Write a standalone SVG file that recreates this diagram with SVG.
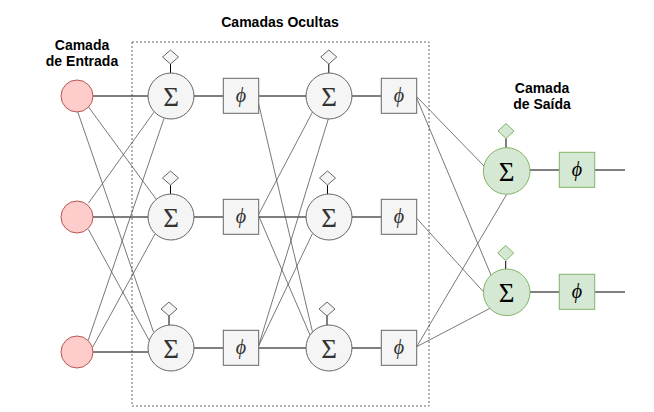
<svg xmlns="http://www.w3.org/2000/svg" width="654" height="412" viewBox="0 0 654 412">
<style>
.lbl{font-family:"Liberation Sans",Arial,Helvetica,sans-serif;font-weight:bold;font-size:14px;fill:#000;text-anchor:middle}
.in{fill:#ffcccc;stroke:#b85450;stroke-width:1}
.hid{fill:#f5f5f5;stroke:#666666;stroke-width:1}
.out{fill:#d5e8d4;stroke:#82b366;stroke-width:1}
.sig{font-family:"Liberation Serif","Times New Roman",serif;font-size:27px;text-anchor:middle}
.phi{font-family:"Liberation Serif","DejaVu Serif",serif;font-style:italic;font-size:20px;text-anchor:middle}
.dk{fill:#333333}
.bk{fill:#000000}
.h{stroke:#000;stroke-width:1;fill:none}
.d{stroke:#555;stroke-width:0.8;fill:none}
</style>
<rect x="132" y="42" width="297" height="364" fill="none" stroke="#666" stroke-width="1" stroke-dasharray="2 2"/>
<text class="lbl" x="280" y="26.5">Camadas Ocultas</text>
<text class="lbl" x="82" y="50">Camada</text>
<text class="lbl" x="82" y="65.5">de Entrada</text>
<text class="lbl" x="542" y="93">Camada</text>
<text class="lbl" x="542" y="109">de Saída</text>
<g id="connectors">
<path class="h" d="M93,96H148M93,217H148M93,352H148.4M194,96H223M194,217H223M194,348H223M258.7,96H306M258.7,217H306M258.7,348H306M352,96H381M352,217H381M352,348H381M530,170H559M594.7,170H625M530,292H559M594.7,292H625"/>
<path class="h" d="M170.5,64V73M170.5,185V194M169,316V325M328.8,64V73M327.5,185V194M327,316V325M506,138.3V148M505.7,260.7V269.3"/>
<path class="d" d="M88.3,106.7L156,199M77.7,111.7L153.5,332M88.3,203.3L154.3,111.7M88.3,229.3L149,340M88.3,340L164,118.5M92.7,347.2L155,234"/>
<path class="d" d="M258.5,103.3L312.5,332M258.3,215L310,335M258.3,215L312.5,112M258.3,346.7L328.3,119M258.3,346.7L312.5,233.5"/>
<path class="d" d="M416.7,96.7L484,166M416.7,98L491,275M416.7,218.3L483.3,291.7M416.7,346.7L506.7,194.3M416.7,346.7L490,308.3"/>
</g>
<g id="in1"><circle class="in" cx="77" cy="96" r="16"/></g>
<g id="in2"><circle class="in" cx="77" cy="217" r="16"/></g>
<g id="in3"><circle class="in" cx="77" cy="352" r="16"/></g>
<g id="s11"><polygon class="hid" points="170.5,50 178.5,57 170.5,64 162.5,57"/><circle class="hid" cx="171" cy="96" r="23"/><text class="sig dk" x="171" y="106">Σ</text></g>
<g id="s12"><polygon class="hid" points="170.5,171 178.5,178 170.5,185 162.5,178"/><circle class="hid" cx="171" cy="217" r="23"/><text class="sig dk" x="171" y="227">Σ</text></g>
<g id="s13"><polygon class="hid" points="169,302 177,309 169,316 161,309"/><circle class="hid" cx="171" cy="348" r="23"/><text class="sig dk" x="171" y="358">Σ</text></g>
<g id="p11"><rect class="hid" x="223.3" y="78.3" width="35.4" height="35"/><text class="phi dk" x="241" y="102">ϕ</text></g>
<g id="p12"><rect class="hid" x="223.3" y="199.3" width="35.4" height="35"/><text class="phi dk" x="241" y="223">ϕ</text></g>
<g id="p13"><rect class="hid" x="223.3" y="330.3" width="35.4" height="35"/><text class="phi dk" x="241" y="354">ϕ</text></g>
<g id="s21"><polygon class="hid" points="328.8,50 336.8,57 328.8,64 320.8,57"/><circle class="hid" cx="329" cy="96" r="23"/><text class="sig dk" x="329" y="106">Σ</text></g>
<g id="s22"><polygon class="hid" points="327.5,171 335.5,178 327.5,185 319.5,178"/><circle class="hid" cx="329" cy="217" r="23"/><text class="sig dk" x="329" y="227">Σ</text></g>
<g id="s23"><polygon class="hid" points="327,302 335,309 327,316 319,309"/><circle class="hid" cx="329" cy="348" r="23"/><text class="sig dk" x="329" y="358">Σ</text></g>
<g id="p21"><rect class="hid" x="381.3" y="78.3" width="35.4" height="35"/><text class="phi dk" x="399" y="102">ϕ</text></g>
<g id="p22"><rect class="hid" x="381.3" y="199.3" width="35.4" height="35"/><text class="phi dk" x="399" y="223">ϕ</text></g>
<g id="p23"><rect class="hid" x="381.3" y="330.3" width="35.4" height="35"/><text class="phi dk" x="399" y="354">ϕ</text></g>
<g id="o1"><polygon class="out" points="506,123.5 514,131 506,138.5 498,131"/><circle class="out" cx="506.7" cy="171" r="23.3"/><text class="sig bk" x="506.7" y="181">Σ</text></g>
<g id="o2"><polygon class="out" points="505.7,245.5 513.7,253 505.7,260.5 497.7,253"/><circle class="out" cx="506.7" cy="292.3" r="23.3"/><text class="sig bk" x="506.7" y="302.3">Σ</text></g>
<g id="po1"><rect class="out" x="559.3" y="152.3" width="35.4" height="35"/><text class="phi bk" x="577" y="176">ϕ</text></g>
<g id="po2"><rect class="out" x="559.3" y="274.3" width="35.4" height="35"/><text class="phi bk" x="577" y="298">ϕ</text></g>
</svg>
